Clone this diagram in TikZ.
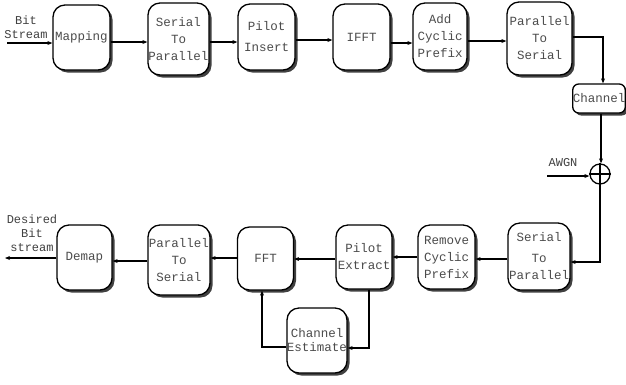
\documentclass[tikz,border=0pt]{standalone}
\usepackage{fontspec}
\newfontfamily\monof{Liberation Mono}
\usetikzlibrary{shadows,arrows.meta}
\begin{document}
\begin{tikzpicture}[x=1pt,y=-1pt,
  blk/.style={draw,line width=1.3pt,rounded corners=12pt,fill=white,
    inner sep=0pt,align=center,text=black!70,
    font=\monof\fontsize{12.5}{17}\selectfont,
    drop shadow={shadow xshift=2.5pt,shadow yshift=-2.5pt,fill=black!75,opacity=1}},
  lbl/.style={inner sep=0pt,align=center,text=black!75,font=\monof\fontsize{12}{14}\selectfont},
  arr/.style={line width=1.2pt,-{Stealth[length=5pt,width=4pt]}}]
\useasboundingbox (0,0) rectangle (626,384);
% top row
\node[blk,minimum width=57pt,minimum height=65pt] (map) at (81.5,37.5) {Mapping};
\node[blk,minimum width=61pt,minimum height=72pt] (sp1) at (178.5,39) {Serial\\To\\Parallel};
\node[blk,minimum width=57pt,minimum height=66pt] (pi) at (266.5,37) {Pilot\\[4pt]Insert};
\node[blk,minimum width=57pt,minimum height=66pt] (ifft) at (361.5,37) {IFFT};
\node[blk,minimum width=54pt,minimum height=67pt] (acp) at (440,36.5) {Add\\Cyclic\\Prefix};
\node[blk,minimum width=65pt,minimum height=73pt] (ps1) at (539.5,38.5) {Parallel\\To\\Serial};
\node[blk,minimum width=52pt,minimum height=29pt,rounded corners=6pt] (ch) at (599,98.5) {Channel};
\node[circle,draw,line width=1.3pt,minimum size=20pt,inner sep=0pt] (plus) at (600,174) {};
\draw[line width=1.3pt] (plus.north) -- (plus.south) (plus.west) -- (plus.east);
% bottom row
\node[blk,minimum width=62pt,minimum height=67pt] (sp2) at (539,256.5) {Serial\\[4pt]To\\Parallel};
\node[blk,minimum width=57pt,minimum height=64pt] (rcp) at (446.5,257) {Remove\\Cyclic\\Prefix};
\node[blk,minimum width=56pt,minimum height=64pt] (pe) at (364,257) {Pilot\\Extract};
\node[blk,minimum width=56pt,minimum height=63pt] (fft) at (265.5,258.5) {FFT};
\node[blk,minimum width=62pt,minimum height=70pt] (ps2) at (179,260) {Parallel\\To\\Serial};
\node[blk,minimum width=55pt,minimum height=65pt] (dem) at (84.5,257.5) {Demap};
\node[blk,minimum width=58pt,minimum height=65pt] (ce) at (317,340.5) {Channel\\[-3pt]Estimate};
% labels
\node[lbl] (bs) at (26,27) {Bit\\Stream};
\node[lbl] (awgn) at (563,163) {AWGN};
\node[lbl] (dbs) at (32,233) {Desired\\Bit\\stream};
% connectors
\coordinate (in) at (7,43);
\coordinate (out) at (5,258);
\coordinate (aw) at (547,176);
\draw[arr] (in) -- (map.west |- in);
\draw[arr] (map.east |- 0,42) -- (sp1.west |- 0,42);
\draw[arr] (sp1.east |- 0,42) -- (pi.west |- 0,42);
\draw[arr] (pi.east |- 0,40) -- (ifft.west |- 0,40);
\draw[arr] (ifft.east |- 0,43) -- (acp.west |- 0,43);
\draw[arr] (acp.east |- 0,41) -- (ps1.west |- 0,41);
\draw[arr] (ps1.east |- 0,37) -| ([xshift=4pt]ch.north);
\draw[arr] ([xshift=2pt]ch.south) -- ([xshift=1pt]plus.north);
\draw[arr] (aw) -- (plus.west |- aw);
\draw[arr] (plus.south) |- (sp2.east |- 0,262);
\draw[arr] (sp2.west |- 0,259) -- (rcp.east |- 0,259);
\draw[arr] (rcp.west |- 0,257) -- (pe.east |- 0,257);
\draw[arr] (pe.west |- 0,259) -- (fft.east |- 0,259);
\draw[arr] (fft.west |- 0,258) -- (ps2.east |- 0,258);
\draw[arr] (ps2.west |- 0,261) -- (dem.east |- 0,261);
\draw[arr] (dem.west |- out) -- (out);
\draw[arr] ([xshift=5pt]pe.south) |- (ce.east |- 0,348);
\draw[arr] (ce.west |- 0,347) -| ([xshift=-3.5pt]fft.south);
\end{tikzpicture}
\end{document}
